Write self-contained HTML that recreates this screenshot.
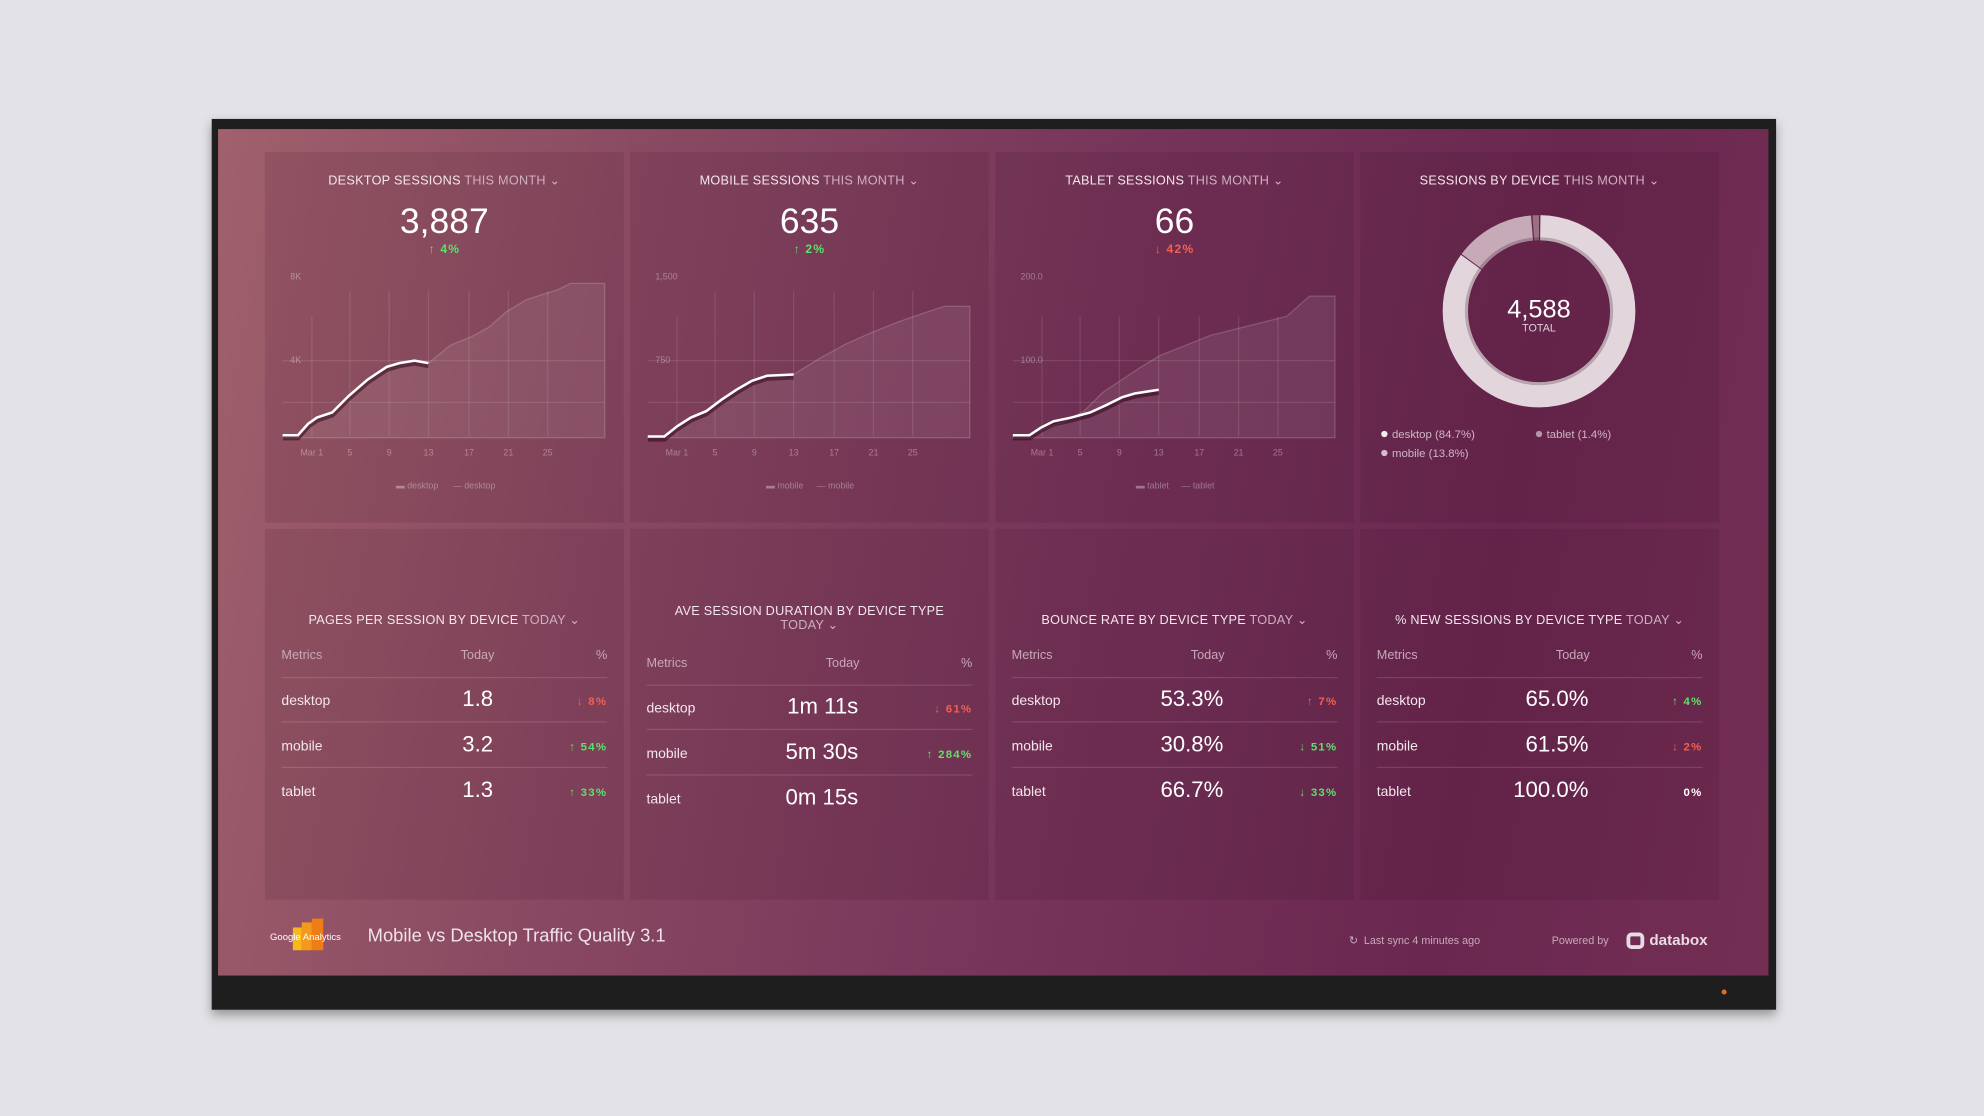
<!DOCTYPE html>
<html><head><meta charset="utf-8">
<style>
*{margin:0;padding:0;box-sizing:border-box}
html,body{width:1984px;height:1116px;overflow:hidden;background:#e2e2e7;font-family:"Liberation Sans",sans-serif}
#w{position:absolute;left:0;top:0;width:1565px;height:882px;transform:scale(1.26773,1.26531);transform-origin:0 0}
.frame{position:absolute;left:167px;top:94px;width:1234px;height:704px;background:#1e1e1e;box-shadow:0 4px 8px rgba(0,0,0,.35)}
.screen{position:absolute;left:172px;top:102px;width:1223px;height:669px;background:linear-gradient(100deg,#a0606c 0%,#8a4a62 25%,#76345a 55%,#6a2850 80%,#742e54 100%)}
.p{position:absolute;width:283px;height:293px;background:rgba(40,0,20,.10);color:#f3e8ee}
.t{position:absolute;left:0;width:100%;text-align:center;font-size:10px;letter-spacing:.2px;color:#f3e6ec}
.t span{color:#cfb0c0}
.big{position:absolute;left:0;width:100%;text-align:center;font-size:28px;color:#fff}
.ch{position:absolute;left:0;width:100%;text-align:center;font-size:9.5px;font-weight:bold;letter-spacing:1px}
.g{color:#5fe06a}.r{color:#f2604e}.wh{color:#fff}
svg{position:absolute;left:0;top:0}
.tb{position:absolute;left:13px;width:257px}
.row{position:absolute;left:0;width:257px;height:36px}
.row .m{position:absolute;left:0;font-size:11px;color:#f3e6ec}
.row .v{position:absolute;right:90px;font-size:17.5px;color:#fff}
.row .c{position:absolute;right:0;font-size:9px;font-weight:bold;letter-spacing:1px}
.hd{position:absolute;left:0;width:257px;font-size:10px;color:#c9a8b8}
.sep{position:absolute;left:0;width:257px;height:1px;background:rgba(255,255,255,.13)}
</style></head><body><div id="w">
<div class="frame"></div>
<div class="screen"></div>

<!-- Desktop -->
<div class="p" style="left:209px;top:120px">
<div class="t" style="top:18px">DESKTOP SESSIONS <span>THIS MONTH ⌄</span></div>
<div class="big" style="top:39px">3,887</div>
<div class="ch g" style="top:72px">↑ 4%</div>
<svg width="283" height="293">
<g stroke="rgba(255,255,255,.10)" stroke-width="1"><line x1="14" y1="165" x2="268" y2="165"/><line x1="14" y1="198" x2="268" y2="198"/>
<line x1="37" y1="130" x2="37" y2="225"/><line x1="67" y1="110" x2="67" y2="225"/><line x1="98" y1="110" x2="98" y2="225"/><line x1="129" y1="110" x2="129" y2="225"/><line x1="161" y1="110" x2="161" y2="225"/><line x1="192" y1="110" x2="192" y2="225"/><line x1="223" y1="110" x2="223" y2="225"/></g>
<path d="M14,224 L26,224 34,215 41,210 53,206 66,193 81,180 96,170 106,167 118,165 129,167 146,153 163,146 176,139 191,126 206,117 221,112 231,109 241,104 268,104 L268,226 L14,226Z" fill="rgba(255,255,255,.08)" stroke="rgba(255,255,255,.18)"/>
<polyline points="14,224 26,224 34,215 41,210 53,206 66,193 81,180 96,170 106,167 118,165 129,167" fill="none" stroke="rgba(40,0,20,.5)" stroke-width="4" transform="translate(0,2)"/>
<polyline points="14,224 26,224 34,215 41,210 53,206 66,193 81,180 96,170 106,167 118,165 129,167" fill="none" stroke="#fff" stroke-width="2"/>
<g font-size="7" fill="rgba(255,255,255,.35)"><text x="20" y="101">8K</text><text x="20" y="167">4K</text>
<g text-anchor="middle"><text x="37" y="240">Mar 1</text><text x="67" y="240">5</text><text x="98" y="240">9</text><text x="129" y="240">13</text><text x="161" y="240">17</text><text x="192" y="240">21</text><text x="223" y="240">25</text>
<text x="120" y="266">▬ desktop</text><text x="165" y="266">— desktop</text></g></g>
</svg></div>

<!-- Mobile -->
<div class="p" style="left:497px;top:120px">
<div class="t" style="top:18px">MOBILE SESSIONS <span>THIS MONTH ⌄</span></div>
<div class="big" style="top:39px">635</div>
<div class="ch g" style="top:72px">↑ 2%</div>
<svg width="283" height="293">
<g stroke="rgba(255,255,255,.10)"><line x1="14" y1="165" x2="268" y2="165"/><line x1="14" y1="198" x2="268" y2="198"/>
<line x1="37" y1="130" x2="37" y2="225"/><line x1="67" y1="110" x2="67" y2="225"/><line x1="98" y1="110" x2="98" y2="225"/><line x1="129" y1="110" x2="129" y2="225"/><line x1="161" y1="110" x2="161" y2="225"/><line x1="192" y1="110" x2="192" y2="225"/><line x1="223" y1="110" x2="223" y2="225"/></g>
<path d="M14,225 L27,225 37,217 48,210 60,205 72,196 84,188 96,181 108,177 129,176 150,163 170,152 190,143 210,135 230,128 248,122 268,122 L268,226 L14,226Z" fill="rgba(255,255,255,.08)" stroke="rgba(255,255,255,.18)"/>
<polyline points="14,225 27,225 37,217 48,210 60,205 72,196 84,188 96,181 108,177 129,176" fill="none" stroke="rgba(40,0,20,.5)" stroke-width="4" transform="translate(0,2)"/>
<polyline points="14,225 27,225 37,217 48,210 60,205 72,196 84,188 96,181 108,177 129,176" fill="none" stroke="#fff" stroke-width="2"/>
<g font-size="7" fill="rgba(255,255,255,.35)"><text x="20" y="101">1,500</text><text x="20" y="167">750</text>
<g text-anchor="middle"><text x="37" y="240">Mar 1</text><text x="67" y="240">5</text><text x="98" y="240">9</text><text x="129" y="240">13</text><text x="161" y="240">17</text><text x="192" y="240">21</text><text x="223" y="240">25</text>
<text x="122" y="266">▬ mobile</text><text x="162" y="266">— mobile</text></g></g>
</svg></div>

<!-- Tablet -->
<div class="p" style="left:785px;top:120px">
<div class="t" style="top:18px">TABLET SESSIONS <span>THIS MONTH ⌄</span></div>
<div class="big" style="top:39px">66</div>
<div class="ch r" style="top:72px">↓ 42%</div>
<svg width="283" height="293">
<g stroke="rgba(255,255,255,.10)"><line x1="14" y1="165" x2="268" y2="165"/><line x1="14" y1="198" x2="268" y2="198"/>
<line x1="37" y1="130" x2="37" y2="225"/><line x1="67" y1="130" x2="67" y2="225"/><line x1="98" y1="130" x2="98" y2="225"/><line x1="129" y1="130" x2="129" y2="225"/><line x1="161" y1="130" x2="161" y2="225"/><line x1="192" y1="130" x2="192" y2="225"/><line x1="223" y1="130" x2="223" y2="225"/></g>
<path d="M14,224 L27,224 40,218 55,213 70,205 85,190 100,180 115,170 130,161 150,153 170,145 190,140 210,135 230,130 248,114 268,114 L268,226 L14,226Z" fill="rgba(255,255,255,.08)" stroke="rgba(255,255,255,.18)"/>
<polyline points="14,224 27,224 36,218 46,213 60,210 75,206 88,200 100,194 110,191 129,188" fill="none" stroke="rgba(40,0,20,.5)" stroke-width="4" transform="translate(0,2)"/>
<polyline points="14,224 27,224 36,218 46,213 60,210 75,206 88,200 100,194 110,191 129,188" fill="none" stroke="#fff" stroke-width="2"/>
<g font-size="7" fill="rgba(255,255,255,.35)"><text x="20" y="101">200.0</text><text x="20" y="167">100.0</text>
<g text-anchor="middle"><text x="37" y="240">Mar 1</text><text x="67" y="240">5</text><text x="98" y="240">9</text><text x="129" y="240">13</text><text x="161" y="240">17</text><text x="192" y="240">21</text><text x="223" y="240">25</text>
<text x="124" y="266">▬ tablet</text><text x="160" y="266">— tablet</text></g></g>
</svg></div>

<!-- Donut -->
<div class="p" style="left:1073px;top:120px">
<div class="t" style="top:18px">SESSIONS BY DEVICE <span>THIS MONTH ⌄</span></div>
<svg width="283" height="293">
<g transform="rotate(-90 141 126)">
<circle cx="141" cy="126" r="66" fill="none" stroke="#e2d6dc" stroke-width="20" stroke-dasharray="351.2 500" stroke-dashoffset="-1"/>
<circle cx="141" cy="126" r="66" fill="none" stroke="#c6aab8" stroke-width="20" stroke-dasharray="56 500" stroke-dashoffset="-353"/>
<circle cx="141" cy="126" r="66" fill="none" stroke="#9a7084" stroke-width="20" stroke-dasharray="4.5 500" stroke-dashoffset="-410"/>
</g>
<circle cx="141" cy="126" r="57" fill="none" stroke="rgba(60,10,35,.25)" stroke-width="3"/>
<text x="141" y="131" text-anchor="middle" font-size="20" fill="#fff">4,588</text>
<text x="141" y="142" text-anchor="middle" font-size="8.5" fill="#e0cfd8">TOTAL</text>
<circle cx="19" cy="223" r="2.5" fill="#eee"/><text x="25" y="226" font-size="9" fill="#cfb5c3">desktop (84.7%)</text>
<circle cx="141" cy="223" r="2.5" fill="#b894a6"/><text x="147" y="226" font-size="9" fill="#cfb5c3">tablet (1.4%)</text>
<circle cx="19" cy="238" r="2.5" fill="#d6bcc9"/><text x="25" y="241" font-size="9" fill="#cfb5c3">mobile (13.8%)</text>
</svg></div>

<!-- Table 1 -->
<div class="p" style="left:209px;top:418px">
<div class="t" style="top:67px">PAGES PER SESSION BY DEVICE <span>TODAY ⌄</span></div>
<div class="tb" style="top:95px">
<div class="hd"><span style="position:absolute;left:0">Metrics</span><span style="position:absolute;right:89px">Today</span><span style="position:absolute;right:0">%</span></div>
<div class="sep" style="top:22px"></div><div class="sep" style="top:57px"></div><div class="sep" style="top:93px"></div>
<div class="row" style="top:27px"><span class="m" style="top:8px">desktop</span><span class="v" style="top:2px">1.8</span><span class="c r" style="top:9px">↓ 8%</span></div>
<div class="row" style="top:63px"><span class="m" style="top:8px">mobile</span><span class="v" style="top:2px">3.2</span><span class="c g" style="top:9px">↑ 54%</span></div>
<div class="row" style="top:99px"><span class="m" style="top:8px">tablet</span><span class="v" style="top:2px">1.3</span><span class="c g" style="top:9px">↑ 33%</span></div>
</div></div>

<!-- Table 2 -->
<div class="p" style="left:497px;top:418px">
<div class="t" style="top:60px">AVE SESSION DURATION BY DEVICE TYPE<br><span>TODAY ⌄</span></div>
<div class="tb" style="top:101px">
<div class="hd"><span style="position:absolute;left:0">Metrics</span><span style="position:absolute;right:89px">Today</span><span style="position:absolute;right:0">%</span></div>
<div class="sep" style="top:22px"></div><div class="sep" style="top:57px"></div><div class="sep" style="top:93px"></div>
<div class="row" style="top:27px"><span class="m" style="top:8px">desktop</span><span class="v" style="top:2px">1m 11s</span><span class="c r" style="top:9px">↓ 61%</span></div>
<div class="row" style="top:63px"><span class="m" style="top:8px">mobile</span><span class="v" style="top:2px">5m 30s</span><span class="c g" style="top:9px">↑ 284%</span></div>
<div class="row" style="top:99px"><span class="m" style="top:8px">tablet</span><span class="v" style="top:2px">0m 15s</span></div>
</div></div>

<!-- Table 3 -->
<div class="p" style="left:785px;top:418px">
<div class="t" style="top:67px">BOUNCE RATE BY DEVICE TYPE <span>TODAY ⌄</span></div>
<div class="tb" style="top:95px">
<div class="hd"><span style="position:absolute;left:0">Metrics</span><span style="position:absolute;right:89px">Today</span><span style="position:absolute;right:0">%</span></div>
<div class="sep" style="top:22px"></div><div class="sep" style="top:57px"></div><div class="sep" style="top:93px"></div>
<div class="row" style="top:27px"><span class="m" style="top:8px">desktop</span><span class="v" style="top:2px">53.3%</span><span class="c r" style="top:9px">↑ 7%</span></div>
<div class="row" style="top:63px"><span class="m" style="top:8px">mobile</span><span class="v" style="top:2px">30.8%</span><span class="c g" style="top:9px">↓ 51%</span></div>
<div class="row" style="top:99px"><span class="m" style="top:8px">tablet</span><span class="v" style="top:2px">66.7%</span><span class="c g" style="top:9px">↓ 33%</span></div>
</div></div>

<!-- Table 4 -->
<div class="p" style="left:1073px;top:418px">
<div class="t" style="top:67px">% NEW SESSIONS BY DEVICE TYPE <span>TODAY ⌄</span></div>
<div class="tb" style="top:95px">
<div class="hd"><span style="position:absolute;left:0">Metrics</span><span style="position:absolute;right:89px">Today</span><span style="position:absolute;right:0">%</span></div>
<div class="sep" style="top:22px"></div><div class="sep" style="top:57px"></div><div class="sep" style="top:93px"></div>
<div class="row" style="top:27px"><span class="m" style="top:8px">desktop</span><span class="v" style="top:2px">65.0%</span><span class="c g" style="top:9px">↑ 4%</span></div>
<div class="row" style="top:63px"><span class="m" style="top:8px">mobile</span><span class="v" style="top:2px">61.5%</span><span class="c r" style="top:9px">↓ 2%</span></div>
<div class="row" style="top:99px"><span class="m" style="top:8px">tablet</span><span class="v" style="top:2px">100.0%</span><span class="c wh" style="top:9px">0%</span></div>
</div></div>

<!-- Footer -->
<div style="position:absolute;left:231px;top:733px;width:7px;height:18px;background:#f7b81e"></div>
<div style="position:absolute;left:238px;top:729px;width:8px;height:22px;background:#f39a1c"></div>
<div style="position:absolute;left:246px;top:726px;width:9px;height:25px;background:#ee7d18"></div>
<div style="position:absolute;left:213px;top:736px;font-size:7.5px;color:#fff">Google Analytics</div>
<div style="position:absolute;left:290px;top:732px;font-size:14.5px;color:#f0e2ea">Mobile vs Desktop Traffic Quality 3.1</div>
<div style="position:absolute;left:1064px;top:738px;font-size:8.5px;color:#c8a8ba">↻ &nbsp;Last sync 4 minutes ago</div>
<div style="position:absolute;left:1224px;top:738px;font-size:8.5px;color:#c8a8ba">Powered by</div>
<div style="position:absolute;left:1283px;top:737px;width:14px;height:13px;border:3px solid #e8dbe2;border-radius:4px"></div>
<div style="position:absolute;left:1301px;top:736px;font-size:12px;font-weight:bold;color:#e8dbe2">databox</div>
<div style="position:absolute;left:1358px;top:782px;width:4px;height:4px;border-radius:50%;background:#e07020"></div>
</div></body></html>
